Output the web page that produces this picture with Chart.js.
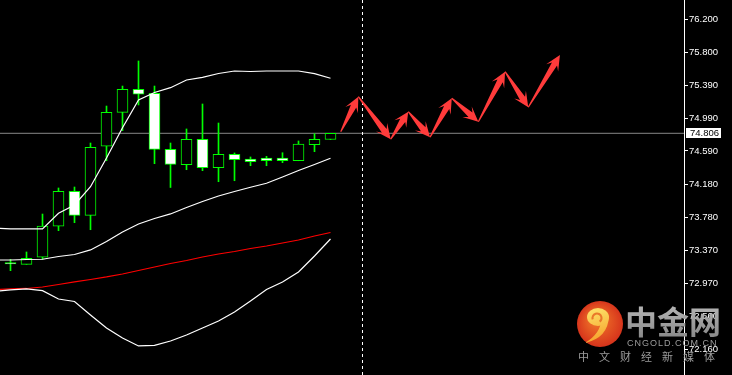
<!DOCTYPE html>
<html>
<head>
<meta charset="utf-8">
<title>H4 chart</title>
<script src="https://cdn.jsdelivr.net/npm/chart.js@4.4.0/dist/chart.umd.min.js"></script>
<style>
  html, body { margin: 0; padding: 0; background: #000; }
  #chart { display: block; }
</style>
</head>
<body>
<canvas id="chart" width="732" height="375"></canvas>
<script>
// candles, oldest first
const bars   = [0, 1, 2, 3, 4, 5, 6, 7, 8, 9, 10, 11, 12, 13, 14, 15, 16, 17, 18, 19, 20];
const opens  = [73.222, 73.201, 73.287, 73.667, 74.096, 73.801, 74.647, 75.063, 75.345, 75.296, 74.610, 74.421, 74.733, 74.385, 74.549, 74.491, 74.503, 74.503, 74.470, 74.666, 74.730];
const highs  = [73.262, 73.352, 73.817, 74.136, 74.148, 74.687, 75.140, 75.385, 75.692, 75.385, 74.687, 74.859, 75.165, 74.932, 74.565, 74.516, 74.524, 74.568, 74.712, 74.801, 74.806];
const lows   = [73.123, 73.201, 73.266, 73.613, 73.711, 73.625, 74.470, 74.838, 75.153, 74.434, 74.142, 74.360, 74.348, 74.213, 74.225, 74.409, 74.409, 74.446, 74.470, 74.581, 74.730];
const closes = [73.205, 73.275, 73.670, 74.096, 73.801, 74.634, 75.063, 75.345, 75.284, 74.610, 74.424, 74.733, 74.385, 74.549, 74.483, 74.458, 74.470, 74.470, 74.675, 74.733, 74.806];

// indicator lines, start one bar before the first candle
const lineIdx    = [-1, 0, 1, 2, 3, 4, 5, 6, 7, 8, 9, 10, 11, 12, 13, 14, 15, 16, 17, 18, 19, 20];
const upperBand  = [73.646, 73.634, 73.634, 73.634, 73.826, 73.928, 74.152, 74.504, 74.875, 75.214, 75.306, 75.365, 75.459, 75.492, 75.539, 75.569, 75.563, 75.569, 75.569, 75.569, 75.536, 75.480];
const middleBand = [73.254, 73.254, 73.260, 73.263, 73.297, 73.321, 73.377, 73.481, 73.597, 73.695, 73.762, 73.818, 73.897, 73.971, 74.038, 74.093, 74.145, 74.194, 74.271, 74.350, 74.424, 74.500];
const lowerBand  = [72.868, 72.887, 72.899, 72.878, 72.776, 72.746, 72.580, 72.421, 72.299, 72.201, 72.207, 72.262, 72.335, 72.421, 72.507, 72.617, 72.752, 72.893, 72.985, 73.107, 73.303, 73.511];
const slowMa     = [72.893, 72.899, 72.905, 72.923, 72.954, 72.985, 73.015, 73.046, 73.082, 73.125, 73.168, 73.211, 73.248, 73.291, 73.327, 73.358, 73.395, 73.425, 73.462, 73.499, 73.548, 73.591];

const lastPrice = 74.806;
const nowIdx = 22;

// forecast arrows path
const forecastIdx   = [20.64, 21.74, 23.76, 24.86, 26.22, 27.58, 29.24, 30.91, 32.36, 34.34];
const forecastPrice = [74.826, 75.254, 74.733, 75.071, 74.757, 75.235, 74.948, 75.561, 75.125, 75.765];

const priceTicks = [76.200, 75.800, 75.390, 74.990, 74.590, 74.180, 73.780, 73.370, 72.970, 72.560, 72.160];

const green = '#00ff00';
const yMin = 71.845, yMax = 76.439;

const pts = (xs, ys) => xs.map((x, i) => ({x: x, y: ys[i]}));

const wickData = bars.map((b, i) => ({x: b, y: [lows[i], highs[i]]}));
const bodyData = bars.map((b, i) => ({x: b, y: [opens[i], closes[i]]}));
const bodyFill = bars.map((b, i) => closes[i] < opens[i] ? '#ffffff' : '#000000');

function lineSet(data, color) {
    return {
        type: 'line', data: data, borderColor: color, borderWidth: 1.2,
        pointRadius: 0, tension: 0, fill: false, order: 0
    };
}

// fat red forecast arrows
const arrowPlugin = {
    id: 'arrows',
    afterDatasetsDraw(chart) {
        const ctx = chart.ctx, xs = chart.scales.x, ys = chart.scales.y;
        ctx.save();
        ctx.fillStyle = '#ff3b3b';
        for (let i = 0; i < forecastIdx.length - 1; i++) {
            const x1 = xs.getPixelForValue(forecastIdx[i]), y1 = ys.getPixelForValue(forecastPrice[i]);
            const x2 = xs.getPixelForValue(forecastIdx[i + 1]), y2 = ys.getPixelForValue(forecastPrice[i + 1]);
            const len = Math.hypot(x2 - x1, y2 - y1);
            const dx = (x2 - x1) / len, dy = (y2 - y1) / len;
            const nx = -dy, ny = dx;
            const h = Math.min(15, len * 0.45);
            const bx = x2 - dx * h, by = y2 - dy * h;       // barbs
            const jx = x2 - dx * h * 0.7, jy = y2 - dy * h * 0.7; // shaft joins head
            ctx.beginPath();
            ctx.moveTo(x1 + nx * 0.6, y1 + ny * 0.6);
            ctx.lineTo(jx + nx * 3, jy + ny * 3);
            ctx.lineTo(bx + nx * 7, by + ny * 7);
            ctx.lineTo(x2, y2);
            ctx.lineTo(bx - nx * 7, by - ny * 7);
            ctx.lineTo(jx - nx * 3, jy - ny * 3);
            ctx.lineTo(x1 - nx * 0.6, y1 - ny * 0.6);
            ctx.closePath();
            ctx.fill();
        }
        ctx.restore();
    }
};

// current price box on the axis and the site logo
const overlayPlugin = {
    id: 'overlay',
    afterDraw(chart) {
        const ctx = chart.ctx, ys = chart.scales.y;
        const py = Math.round(ys.getPixelForValue(lastPrice));
        ctx.save();
        ctx.fillStyle = '#ffffff';
        ctx.fillRect(686, py - 5, 35, 10);
        ctx.fillStyle = '#000000';
        ctx.font = '9.5px "Liberation Sans"';
        ctx.textBaseline = 'middle';
        ctx.fillText(lastPrice.toFixed(3), 690, py + 0.5);

        // logo circle
        const g = ctx.createRadialGradient(596, 318, 2, 600, 324, 24);
        g.addColorStop(0, '#f27a2a');
        g.addColorStop(1, '#d5311b');
        ctx.fillStyle = g;
        ctx.beginPath();
        ctx.arc(600, 324, 23, 0, Math.PI * 2);
        ctx.fill();

        const s = ctx.createLinearGradient(590, 308, 600, 342);
        s.addColorStop(0, '#fde36a');
        s.addColorStop(1, '#f6a02a');
        ctx.fillStyle = s;
        ctx.beginPath();
        ctx.ellipse(598, 317, 11, 9, 0, 0, Math.PI * 2);
        ctx.fill();
        ctx.beginPath();
        ctx.moveTo(609, 316);
        ctx.quadraticCurveTo(608, 338, 585, 343);
        ctx.quadraticCurveTo(601, 333, 601, 320);
        ctx.closePath();
        ctx.fill();
        ctx.strokeStyle = '#e9782a';
        ctx.lineWidth = 2;
        ctx.beginPath();
        ctx.arc(597, 318, 4.5, Math.PI * 0.9, Math.PI * 2.3);
        ctx.stroke();

        // logo texts
        const t = ctx.createLinearGradient(0, 306, 0, 337);
        t.addColorStop(0, '#b4b4b4');
        t.addColorStop(1, '#8a8a8a');
        ctx.fillStyle = t;
        ctx.font = 'bold 32px "Noto Sans CJK SC"';
        ctx.textBaseline = 'middle';
        ctx.fillText('中金网', 625, 322);
        ctx.fillStyle = '#9c9c9c';
        ctx.font = '9px "Liberation Sans"';
        ctx.letterSpacing = '1px';
        ctx.fillText('CNGOLD.COM.CN', 627, 344);
        ctx.letterSpacing = '0px';
        ctx.font = '11px "Noto Sans CJK SC"';
        ctx.textAlign = 'center';
        const sub = ['中', '文', '财', '经', '新', '媒', '体'];
        sub.forEach((c, k) => ctx.fillText(c, 583.5 + k * 21, 357));
        ctx.restore();
    }
};

const ctx = document.getElementById('chart').getContext('2d');

const myChart = new Chart(ctx, {
    type: 'bar',
    data: {
        datasets: [
            lineSet(pts(lineIdx, upperBand), '#ffffff'),
            lineSet(pts(lineIdx, middleBand), '#ffffff'),
            lineSet(pts(lineIdx, lowerBand), '#ffffff'),
            lineSet(pts(lineIdx, slowMa), '#ff0000'),
            Object.assign(lineSet([{x: -1, y: lastPrice}, {x: 50, y: lastPrice}], '#888888'), {order: 3, borderWidth: 1}),
            Object.assign(lineSet([{x: nowIdx, y: yMax}, {x: nowIdx, y: yMin}], '#ffffff'), {borderDash: [3, 3], borderWidth: 1}),
            {
                data: bodyData, stack: 'c', barThickness: 11,
                backgroundColor: bodyFill, borderColor: green, borderWidth: 1,
                borderSkipped: false, order: 1
            },
            {
                data: wickData, stack: 'c', barThickness: 1,
                backgroundColor: green, borderWidth: 0, order: 2
            }
        ]
    },
    options: {
        responsive: false,
        animation: false,
        devicePixelRatio: 1,
        layout: { padding: 0 },
        plugins: { legend: { display: false }, tooltip: { enabled: false } },
        scales: {
            x: {
                type: 'linear', display: false, offset: false,
                min: -10.5 / 16, max: -10.5 / 16 + 684 / 16
            },
            y: {
                position: 'right', min: yMin, max: yMax, stacked: false,
                border: { display: true, color: '#ffffff', width: 1 },
                grid: { drawOnChartArea: false, drawTicks: true, tickLength: 4, color: '#ffffff' },
                ticks: {
                    color: '#ffffff', padding: 1, autoSkip: false,
                    font: { family: 'Liberation Sans', size: 9.5 },
                    callback: (v) => Number(v).toFixed(3)
                },
                afterBuildTicks: (scale) => {
                    scale.ticks = priceTicks.map(v => ({value: v}));
                },
                afterFit: (scale) => {
                    scale.width = 48;
                    scale.paddingTop = 0;
                    scale.paddingBottom = 0;
                }
            }
        }
    },
    plugins: [arrowPlugin, overlayPlugin]
});
</script>
</body>
</html>
